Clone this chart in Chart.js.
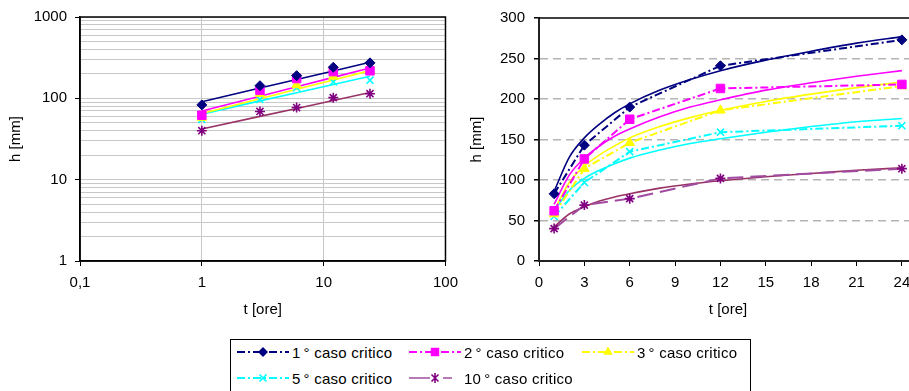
<!DOCTYPE html>
<html><head><meta charset="utf-8">
<script src="https://cdn.jsdelivr.net/npm/chart.js@4/dist/chart.umd.min.js"></script>
<style>
html,body{margin:0;padding:0;background:#fff;width:909px;height:391px;overflow:hidden;position:relative;font-family:"Liberation Sans",Arial,sans-serif;}
#c1{position:absolute;left:0;top:0;}
#c2{position:absolute;left:460px;top:0;}
#legend{position:absolute;left:230px;top:339px;width:521px;height:70px;border:1px solid #000;box-sizing:border-box;background:#fff;}
.item{position:absolute;height:20px;display:flex;align-items:center;font-size:15px;color:#000;white-space:nowrap;letter-spacing:0.25px;}
.item canvas{margin-right:3px;}
.deg{margin-left:3px;margin-right:0;}
</style></head>
<body>
<canvas id="c1" width="466" height="330"></canvas>
<canvas id="c2" width="464" height="330"></canvas>
<div id="legend"></div>
<script>
// ---- data ----
const times = [1, 3, 6, 12, 24];
const seriesNames = ["1° caso critico", "2° caso critico", "3° caso critico", "5° caso critico", "10° caso critico"];
const h1 = [83, 143, 190, 241, 273];
const h2 = [62, 126, 175, 213, 218];
const h3 = [58, 114, 146, 186, 216];
const h5 = [55, 97, 135, 159, 167];
const h10 = [40, 69, 77, 102, 114];

// trend lines of the log-log panel
const fitLogT = [1, 3, 6, 12, 24];
const fitLog1 = [91, 134, 170, 217, 277];
const fitLog2 = [70, 106, 139, 181, 236];
const fitLog3 = [65, 99, 129, 168, 219];
const fitLog5 = [64, 93, 117, 148, 187];
const fitLog10 = [42, 60, 75, 94, 118];

// trend lines of the linear panel
const fitLinT = [1, 2, 3, 4, 5, 6, 8, 10, 12, 15, 18, 21, 24];
const fitLin1 = [86, 128, 152, 169, 183, 194, 211, 224, 235, 248, 259, 269, 277];
const fitLin2 = [70, 106, 127, 142, 154, 163, 178, 190, 199, 211, 220, 228, 235];
const fitLin3 = [62, 97, 117, 131, 142, 152, 166, 177, 186, 197, 206, 214, 221];
const fitLin5 = [62, 87, 102, 112, 120, 127, 137, 145, 151, 159, 166, 172, 176];
const fitLin10 = [42, 58, 67, 74, 79, 83, 90, 95, 99, 104, 108, 112, 115];

// tick labels
const xTicksLog = [0.1, 1, 10, 100];
const xTickLabelsLog = ["0,1", "1", "10", "100"];
const yTicksLog = [1,2,3,4,5,6,7,8,9,10,20,30,40,50,60,70,80,90,100,200,300,400,500,600,700,800,900,1000];
const yMajorLog = [1, 10, 100, 1000];
const yTickLabelsLog = ["1", "10", "100", "1000"];
const xTitle = "t [ore]";
const yTitle = "h [mm]";

// ---- styles ----
const FONT = {family: "'Liberation Sans', Arial, sans-serif", size: 15};
const colors = ['#000080', '#ff00ff', '#ffff00', '#00ffff', '#800080'];
const fitColors = ['#000080', '#ff00ff', '#ffff00', '#00ffff', '#993366'];
const lineColors = ['#000080', '#ff00ff', '#ffff00', '#00ffff', '#a04aa0'];
const legendLineColors = ['#000080', '#ff00ff', '#ffff00', '#00ffff', '#b67ab6'];
const pointStyles = ['rectRot', 'rect', 'triangle', 'crossRot', 'star'];
const pointRadii = [5, 6, 5.5, 5, 5];
const dataDash = [[8,3,2,3],[8,3,2,3],[8,3,2,3],[8,3,2,3],[16,7]];
const legendDash = [[8,3,2,3],[8,3,2,3],[8,3,2,3],[8,3,2,3],[21,13]];
const legendLineLen = [52, 52, 52, 52, 43];

const series = [h1, h2, h3, h5, h10];
const fitsLog = [fitLog1, fitLog2, fitLog3, fitLog5, fitLog10];
const fitsLin = [fitLin1, fitLin2, fitLin3, fitLin5, fitLin10];
const pts = (xs, ys) => xs.map((x, i) => ({x: x, y: ys[i]}));

const frame = {
  id: 'frame',
  beforeDatasetsDraw(chart, args, opts) {
    const {ctx, chartArea: a} = chart;
    ctx.save();
    ctx.strokeStyle = '#000';
    ctx.lineWidth = opts.width || 1.5;
    ctx.beginPath();
    if (opts.full) {
      ctx.rect(a.left, a.top, a.right - a.left, a.bottom - a.top);
    } else {
      ctx.moveTo(a.left, a.top);
      ctx.lineTo(a.right + 10, a.top);
    }
    ctx.stroke();
    ctx.restore();
  }
};

function markerSets(showLine) {
  return series.map((s, i) => ({
    label: seriesNames[i],
    data: pts(times, s),
    showLine: showLine,
    borderColor: lineColors[i],
    borderWidth: 2,
    borderDash: dataDash[i],
    pointStyle: pointStyles[i],
    pointRadius: pointRadii[i],
    pointBackgroundColor: colors[i],
    pointBorderColor: colors[i],
    pointBorderWidth: (pointStyles[i] === 'crossRot' || pointStyles[i] === 'star') ? 1.6 : 1,
    fill: false
  }));
}
function fitSets(xs, fits, smooth) {
  return fits.map((f, i) => ({
    label: 'fit ' + seriesNames[i],
    data: pts(xs, f),
    showLine: true,
    borderColor: fitColors[i],
    borderWidth: 1.6,
    pointRadius: 0,
    tension: smooth ? 0.4 : 0,
    cubicInterpolationMode: smooth ? 'monotone' : 'default',
    fill: false
  }));
}

Chart.defaults.font.family = FONT.family;
Chart.defaults.font.size = FONT.size;
Chart.defaults.color = '#000';

// ---- left: log-log ----
new Chart(document.getElementById('c1'), {
  type: 'scatter',
  data: {datasets: [...markerSets(false), ...fitSets(fitLogT, fitsLog, false)]},
  options: {
    responsive: false, animation: false, events: [],
    layout: {padding: {top: 15, right: 15, bottom: 0, left: 0}},
    plugins: {legend: {display: false}, tooltip: {enabled: false}, frame: {full: true, width: 1.5}},
    scales: {
      x: {
        type: 'logarithmic', min: 0.1, max: 100,
        afterBuildTicks: s => { s.ticks = xTicksLog.map(v => ({value: v})); },
        afterFit: s => { s.height = 69; },
        ticks: {autoSkip: false, maxRotation: 0, padding: 8, color: '#000', font: FONT,
                callback: (v, i) => xTickLabelsLog[i]},
        grid: {color: '#c8c8c8', lineWidth: 1, tickColor: '#000', tickLength: 5},
        border: {color: '#000', width: 1.5},
        title: {display: true, text: xTitle, color: '#000', font: FONT, padding: {top: 0, bottom: 11}}
      },
      y: {
        type: 'logarithmic', min: 1, max: 1000,
        afterBuildTicks: s => { s.ticks = yTicksLog.map(v => ({value: v})); },
        afterFit: s => { s.width = 80; },
        ticks: {autoSkip: false, padding: 8, color: '#000', font: FONT,
                callback: v => { const k = yMajorLog.indexOf(v); return k >= 0 ? yTickLabelsLog[k] : ''; }},
        grid: {color: '#c8c8c8', lineWidth: 1, tickLength: 5,
               tickColor: c => (c.tick && yMajorLog.indexOf(c.tick.value) >= 0) ? '#000' : 'rgba(0,0,0,0)'},
        border: {color: '#000', width: 1.5},
        title: {display: true, text: yTitle, color: '#000', font: FONT, padding: {top: 7, bottom: 0}}
      }
    }
  },
  plugins: [frame]
});

// ---- right: linear ----
new Chart(document.getElementById('c2'), {
  type: 'scatter',
  data: {datasets: [...markerSets(true), ...fitSets(fitLinT, fitsLin, true)]},
  options: {
    responsive: false, animation: false, events: [],
    layout: {padding: {top: 15, right: 0, bottom: 0, left: 0}},
    plugins: {legend: {display: false}, tooltip: {enabled: false}, frame: {full: false, width: 1.5}},
    scales: {
      x: {
        type: 'linear', min: 0, max: 25,
        afterFit: s => { s.height = 69; },
        ticks: {stepSize: 3, includeBounds: false, autoSkip: false, maxRotation: 0, padding: 8, color: '#000', font: FONT},
        grid: {drawOnChartArea: false, tickColor: '#000', tickLength: 5},
        border: {color: '#222', width: 2},
        title: {display: true, text: xTitle, color: '#000', font: FONT, padding: {top: 0, bottom: 11}}
      },
      y: {
        type: 'linear', min: 0, max: 300,
        afterFit: s => { s.width = 79; },
        ticks: {stepSize: 50, padding: 9, color: '#000', font: FONT},
        grid: {lineWidth: 1.5, tickLength: 5, tickColor: '#000',
               color: c => (c.tick && (c.tick.value === 0 || c.tick.value === 300)) ? 'rgba(0,0,0,0)' : '#b4b4b4'},
        border: {color: '#222', width: 2, dash: [8, 5]},
        title: {display: true, text: yTitle, color: '#000', font: FONT, padding: {top: 8, bottom: 0}}
      }
    }
  },
  plugins: [frame]
});

// ---- legend ----
function drawMarker(ctx, style, x, y, r, color) {
  ctx.fillStyle = color; ctx.strokeStyle = color; ctx.lineWidth = 1.6;
  ctx.beginPath();
  if (style === 'rectRot') {
    ctx.moveTo(x, y - r); ctx.lineTo(x + r, y); ctx.lineTo(x, y + r); ctx.lineTo(x - r, y); ctx.closePath(); ctx.fill();
  } else if (style === 'rect') {
    const s = r * Math.SQRT1_2; ctx.rect(x - s, y - s, 2 * s, 2 * s); ctx.fill();
  } else if (style === 'triangle') {
    ctx.moveTo(x, y - r); ctx.lineTo(x + r * 0.87, y + r * 0.5); ctx.lineTo(x - r * 0.87, y + r * 0.5); ctx.closePath(); ctx.fill();
  } else if (style === 'crossRot') {
    const s = r * 0.7; ctx.moveTo(x - s, y - s); ctx.lineTo(x + s, y + s); ctx.moveTo(x + s, y - s); ctx.lineTo(x - s, y + s); ctx.stroke();
  } else if (style === 'star') {
    const s = r * 0.7; ctx.moveTo(x - s, y - s); ctx.lineTo(x + s, y + s); ctx.moveTo(x + s, y - s); ctx.lineTo(x - s, y + s);
    ctx.moveTo(x, y - r); ctx.lineTo(x, y + r); ctx.stroke();
  }
}
const legendPos = [[6, 2], [178, 2], [351, 2], [6, 28], [178, 28]];
const leg = document.getElementById('legend');
seriesNames.forEach((name, i) => {
  const d = document.createElement('div');
  d.className = 'item';
  d.style.left = legendPos[i][0] + 'px';
  d.style.top = legendPos[i][1] + 'px';
  const cv = document.createElement('canvas');
  cv.width = 52; cv.height = 16;
  const ctx = cv.getContext('2d');
  ctx.strokeStyle = legendLineColors[i]; ctx.lineWidth = 2;
  ctx.setLineDash(legendDash[i]);
  ctx.beginPath(); ctx.moveTo(0, 8); ctx.lineTo(legendLineLen[i], 8); ctx.stroke();
  ctx.setLineDash([]);
  drawMarker(ctx, pointStyles[i], 26, 8, pointRadii[i], colors[i]);
  d.appendChild(cv);
  const parts = name.split('°');
  const t = document.createElement('span');
  t.appendChild(document.createTextNode(parts[0]));
  const dg = document.createElement('span');
  dg.className = 'deg';
  dg.textContent = '°';
  t.appendChild(dg);
  t.appendChild(document.createTextNode(parts[1]));
  d.appendChild(t);
  leg.appendChild(d);
});
</script>
</body></html>
